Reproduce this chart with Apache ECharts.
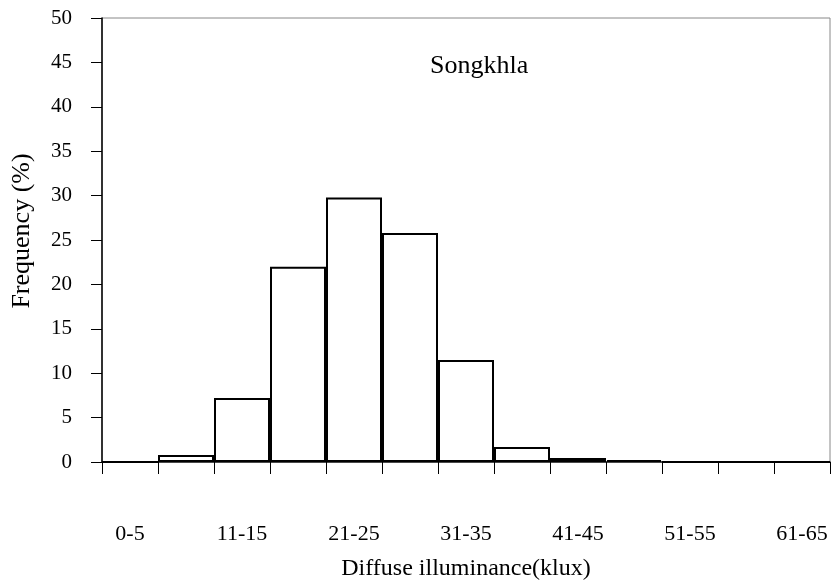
<!DOCTYPE html>
<html>
<head>
<meta charset="utf-8">
<script src="https://cdn.jsdelivr.net/npm/echarts@6/dist/echarts.min.js"></script>
<style>
  html, body { margin: 0; padding: 0; background: #fff; }
  #chart { width: 835px; height: 586px; }
</style>
</head>
<body>
<div id="chart"></div>
<script>
// Illuminance classes (klux) and their frequency of occurrence (%)
const classes = ['0-5', '6-10', '11-15', '16-20', '21-25', '26-30', '31-35',
                 '36-40', '41-45', '46-50', '51-55', '56-60', '61-65'];
const frequency = [0, 0.8, 7.2, 22.0, 29.8, 25.8, 11.5, 1.7, 0.45, 0.22, 0, 0, 0];
const yTicks = { min: 0, max: 50, step: 5 };
const station = 'Songkhla';

const serif = '"Liberation Serif", "DejaVu Serif", serif';
const chart = echarts.init(document.getElementById('chart'), null, { renderer: 'canvas' });

chart.setOption({
  animation: false,
  backgroundColor: '#fff',
  grid: {
    left: 102, right: 5, top: 18, bottom: 121,
    show: true, borderColor: '#888', borderWidth: 1, backgroundColor: 'transparent'
  },
  graphic: [{
    type: 'text', left: 430, top: 53,
    style: { text: station, font: '26px ' + serif, fill: '#000' }
  }],
  xAxis: {
    type: 'category',
    data: classes,
    boundaryGap: true,
    name: 'Diffuse illuminance(klux)',
    nameLocation: 'middle',
    nameGap: 95,
    nameTextStyle: { fontFamily: serif, fontSize: 24, color: '#000' },
    axisLine: { lineStyle: { color: '#222', width: 1.5 } },
    axisTick: { show: true, interval: 0, length: 12, lineStyle: { color: '#000', width: 1 } },
    axisLabel: { interval: 1, margin: 61, fontFamily: serif, fontSize: 22, color: '#000' },
    splitLine: { show: false }
  },
  yAxis: {
    type: 'value',
    min: yTicks.min, max: yTicks.max, interval: yTicks.step,
    name: 'Frequency (%)',
    nameLocation: 'middle',
    nameGap: 67,
    nameTextStyle: { fontFamily: serif, fontSize: 26, color: '#000', padding: [0, 0, 0, 18] },
    axisLine: { show: true, lineStyle: { color: '#000', width: 1.5 } },
    axisTick: { show: true, length: 11, lineStyle: { color: '#000', width: 1 } },
    axisLabel: { margin: 30, fontFamily: serif, fontSize: 21, color: '#000' },
    splitLine: { show: false }
  },
  series: [{
    type: 'bar',
    data: frequency,
    barCategoryGap: 0,
    itemStyle: { color: '#fff', borderColor: '#000', borderWidth: 2 },
    emphasis: { disabled: true }
  }]
});
</script>
</body>
</html>
